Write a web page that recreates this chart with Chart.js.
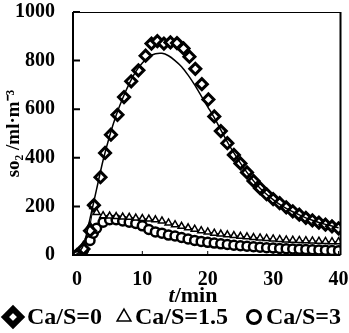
<!DOCTYPE html>
<html>
<head>
<meta charset="utf-8">
<script src="https://cdn.jsdelivr.net/npm/chart.js@4"></script>
<style>
html, body { margin: 0; padding: 0; background: #fff; }
</style>
</head>
<body>
<canvas id="chart" width="349" height="333"></canvas>
<script>
// measured points, Ca/S = 0
const timeA = [0, 1, 2, 2.6, 3.6, 4.3, 5.2, 6.2, 7.2, 8.3, 9.4, 10.5, 11.4, 12.3, 13.3, 14.3, 15.3, 16.3, 17.2, 18.1, 19.1, 20.1, 21, 22, 23, 24, 25, 26, 27, 28, 29, 30, 31, 32, 33, 34, 35, 36, 37, 38, 39, 40];
const caS0 = [0, 25, 100, 205, 320, 420, 495, 577, 650, 715, 760, 820, 870, 880, 870, 875, 872, 850, 816, 766, 703, 640, 570, 510, 460, 412, 377, 340, 305, 275, 250, 230, 213, 196, 180, 166, 153, 142, 133, 125, 118, 110];

// model curve, Ca/S = 0
const timeFit = [0, 1, 2, 3, 4, 5, 6, 7, 8, 9, 10, 11, 12, 13, 14, 15, 16, 17, 18, 19, 20, 21, 22, 23, 24, 25, 26, 27, 28, 29, 30, 31, 32, 33, 34, 35, 36, 37, 38, 39, 40];
const fitS0 = [0, 40, 150, 270, 390, 490, 575, 645, 705, 755, 790, 815, 828, 830, 820, 800, 775, 740, 700, 655, 610, 565, 515, 465, 420, 378, 340, 305, 275, 250, 228, 208, 192, 178, 165, 153, 143, 134, 126, 119, 112];

// Ca/S = 1.5 and Ca/S = 3
const timeB = [0, 1, 2, 2.5, 3, 4, 5, 6, 7, 8, 9, 10, 11, 12, 13, 14, 15, 16, 17, 18, 19, 20, 21, 22, 23, 24, 25, 26, 27, 28, 29, 30, 31, 32, 33, 34, 35, 36, 37, 38, 39, 40];
const caS15 = [0, 40, 120, 200, 175, 162, 160, 158, 156, 155, 152, 150, 148, 145, 140, 132, 125, 118, 112, 106, 100, 95, 90, 86, 83, 80, 77, 75, 72, 70, 68, 66, 64, 62, 61, 60, 59, 58, 57, 56, 55, 55];
const caS3 = [0, 20, 60, 90, 110, 135, 145, 145, 140, 135, 130, 120, 105, 95, 90, 82, 78, 72, 66, 60, 56, 52, 49, 46, 43, 40, 38, 36, 34, 32, 30, 29, 27, 26, 25, 24, 23, 22, 21, 20, 19, 18];

const xTicks = [0, 10, 20, 30, 40];
const yTicks = [0, 200, 400, 600, 800, 1000];

function pairs(xs, ys) {
    return xs.map((x, i) => ({ x: x, y: ys[i] }));
}

const serif = "'Liberation Serif', 'Times New Roman', serif";

// legend entries: symbol centre x, text start x
const legendItems = [
    { text: "Ca/S=0", sym: { pointStyle: "rectRot", radius: 8, borderWidth: 6 }, sx: 13, tx: 27 },
    { text: "Ca/S=1.5", sym: { pointStyle: "triangle", radius: 8, borderWidth: 1.5 }, sx: 124, tx: 135 },
    { text: "Ca/S=3", sym: { pointStyle: "circle", radius: 6.5, borderWidth: 3 }, sx: 254, tx: 266 }
];

// inward ticks, frame on top and right, x title with italic t, legend row
const frame = {
    id: "frame",
    afterDatasetsDraw(chart) {
        const c = chart.ctx;
        const a = chart.chartArea;
        const xs = chart.scales.x;
        const ys = chart.scales.y;
        c.save();
        c.strokeStyle = "#000";
        c.lineWidth = 1;
        c.beginPath();
        c.moveTo(a.left, a.top + 0.5);
        c.lineTo(a.right, a.top + 0.5);
        c.stroke();
        c.lineWidth = 2;
        c.beginPath();
        c.moveTo(a.right, a.top);
        c.lineTo(a.right, a.bottom);
        c.moveTo(a.left, a.top);
        c.lineTo(a.left, a.bottom);
        c.lineTo(a.right, a.bottom);
        yTicks.forEach(v => {
            const py = ys.getPixelForValue(v);
            c.moveTo(a.left, py);
            c.lineTo(a.left + 7, py);
        });
        c.stroke();
        c.lineWidth = 1;
        c.beginPath();
        xTicks.forEach(v => {
            const px = xs.getPixelForValue(v);
            c.moveTo(px, a.bottom);
            c.lineTo(px, a.bottom - 4);
        });
        c.stroke();

        // x title
        c.fillStyle = "#000";
        c.textBaseline = "middle";
        c.font = "italic bold 22px " + serif;
        const w1 = c.measureText("t").width;
        c.font = "bold 22px " + serif;
        const w2 = c.measureText("/min").width;
        const x = 193 - (w1 + w2) / 2;
        const y = a.bottom + 41;
        c.font = "italic bold 22px " + serif;
        c.fillText("t", x, y);
        c.font = "bold 22px " + serif;
        c.fillText("/min", x + w1, y);

        // legend
        const ly = 317;
        c.font = "bold 24px " + serif;
        legendItems.forEach(it => {
            c.fillStyle = "#fff";
            c.strokeStyle = "#000";
            c.lineWidth = it.sym.borderWidth;
            Chart.helpers.drawPoint(c, { pointStyle: it.sym.pointStyle, radius: it.sym.radius, borderWidth: it.sym.borderWidth, rotation: 0 }, it.sx, ly);
            c.fillStyle = "#000";
            c.fillText(it.text, it.tx, ly + 1);
        });
        c.restore();
    }
};

new Chart(document.getElementById("chart"), {
    type: "scatter",
    data: {
        datasets: [
            {
                label: "fit",
                data: pairs(timeFit, fitS0),
                showLine: true,
                borderColor: "#000",
                borderWidth: 1.5,
                pointRadius: 0,
                tension: 0.3
            },
            {
                label: "Ca/S=0",
                data: pairs(timeA, caS0),
                showLine: false,
                pointStyle: "rectRot",
                pointRadius: 5.5,
                borderWidth: 3,
                borderColor: "#000",
                backgroundColor: "#fff"
            },
            {
                label: "Ca/S=1.5",
                data: pairs(timeB, caS15),
                showLine: true,
                borderColor: "#000",
                borderWidth: 1,
                pointStyle: "triangle",
                pointRadius: 4,
                pointBorderWidth: 1.5,
                backgroundColor: "#fff"
            },
            {
                label: "Ca/S=3",
                data: pairs(timeB, caS3),
                showLine: false,
                pointStyle: "circle",
                pointRadius: 4.5,
                borderWidth: 2.5,
                borderColor: "#000",
                backgroundColor: "#fff"
            }
        ]
    },
    options: {
        responsive: false,
        animation: false,
        layout: { padding: { top: 12, right: 7, left: 0, bottom: 38 } },
        plugins: {
            tooltip: { enabled: false },
            legend: { display: false }
        },
        scales: {
            x: {
                type: "linear",
                min: -0.6,
                max: 40.3,
                afterBuildTicks: s => { s.ticks = xTicks.map(v => ({ value: v })); },
                afterFit: s => { s.height = 40; s.paddingLeft = 0; s.paddingRight = 0; },
                grid: { display: false },
                border: { display: false },
                ticks: {
                    color: "#000",
                    padding: 5,
                    callback: v => String(v),
                    font: { family: serif, size: 20, weight: "bold" }
                }
            },
            y: {
                min: 0,
                max: 1000,
                afterBuildTicks: s => { s.ticks = yTicks.map(v => ({ value: v })); },
                afterFit: s => { s.width = 73; s.paddingTop = 0; s.paddingBottom = 0; },
                grid: { display: false },
                border: { display: false },
                ticks: {
                    color: "#000",
                    padding: 10,
                    callback: v => String(v),
                    font: { family: serif, size: 20, weight: "bold" }
                },
                title: {
                    display: true,
                    text: "so\u2082 /ml\u00b7m\u207b\u00b3",
                    color: "#000",
                    padding: { top: 3, bottom: 0 },
                    font: { family: serif, size: 19, weight: "bold" }
                }
            }
        }
    },
    plugins: [frame]
});
</script>
</body>
</html>
